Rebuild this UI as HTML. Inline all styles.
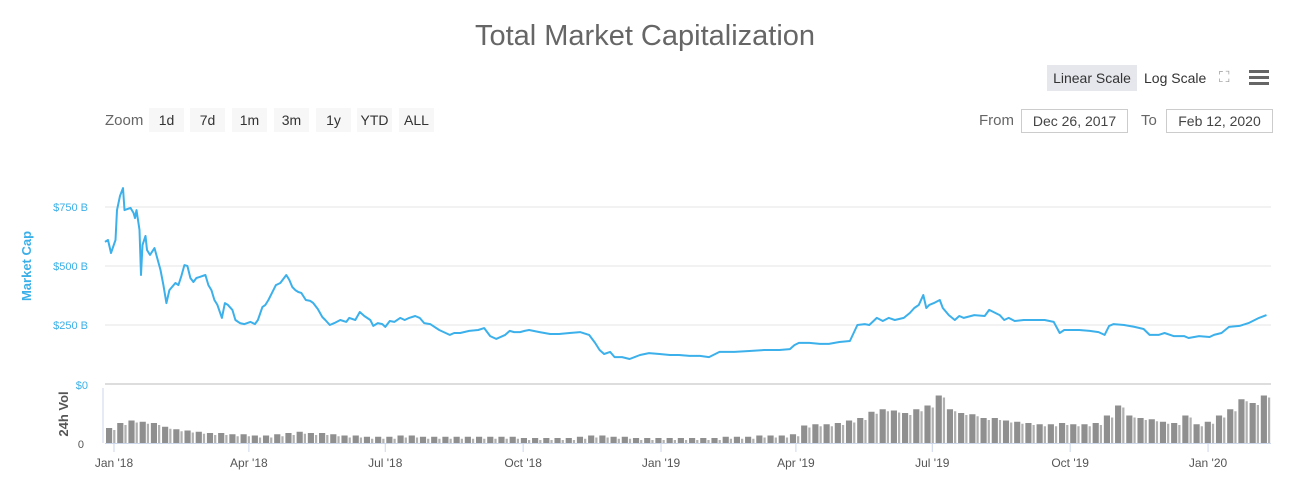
<!DOCTYPE html>
<html><head><meta charset="utf-8"><style>
body{margin:0;background:#fff;font-family:"Liberation Sans",sans-serif;}
#wrap{position:relative;width:1290px;height:480px;overflow:hidden;}
.t{position:absolute;white-space:nowrap;}
.btn{position:absolute;top:108px;height:24px;line-height:24px;background:#f7f7f7;font-size:14px;color:#333;text-align:center;}
.box{position:absolute;top:109px;height:22px;line-height:22px;border:1px solid #ccc;font-size:14px;color:#444;text-align:center;}
</style></head><body><div id="wrap">
<div class="t" style="left:0;width:1290px;text-align:center;top:20px;font-size:29px;color:#666;">Total Market Capitalization</div>
<div class="t" style="left:1047px;top:65px;width:90px;height:26px;line-height:26px;background:#e6e7ec;text-align:center;font-size:14px;color:#333;">Linear Scale</div>
<div class="t" style="left:1144px;top:65px;height:26px;line-height:26px;font-size:14px;color:#333;">Log Scale</div>
<div class="t" style="left:1219px;top:69px;font-size:15px;color:#999;">⛶</div>
<div class="t" style="left:1249px;top:70px;width:20px;height:16px;">
<div style="height:3px;background:#666;margin-bottom:3px"></div><div style="height:3px;background:#666;margin-bottom:3px"></div><div style="height:3px;background:#666"></div></div>
<div class="t" style="left:105px;top:112px;font-size:15px;color:#666;">Zoom</div>
<div class="btn" style="left:149px;width:35px;">1d</div>
<div class="btn" style="left:190px;width:35px;">7d</div>
<div class="btn" style="left:232px;width:35px;">1m</div>
<div class="btn" style="left:274px;width:35px;">3m</div>
<div class="btn" style="left:316px;width:35px;">1y</div>
<div class="btn" style="left:357px;width:35px;">YTD</div>
<div class="btn" style="left:399px;width:35px;">ALL</div>
<div class="t" style="left:979px;top:112px;font-size:15px;color:#666;">From</div>
<div class="box" style="left:1021px;width:105px;">Dec 26, 2017</div>
<div class="t" style="left:1141px;top:112px;font-size:15px;color:#666;">To</div>
<div class="box" style="left:1166px;width:105px;">Feb 12, 2020</div>
<svg id="svg" width="1290" height="480" style="position:absolute;left:0;top:0"></svg>
</div>
<script>
const capDays=[0,2,4,7,8,10,12,13,17,19,20,21,23,24,25,27,28,30,33,37,39,41,43,47,49,51,53,55,57,59,61,63,67,69,71,73,75,78,80,82,85,87,90,93,97,100,102,105,107,109,111,114,117,119,121,123,125,127,129,131,134,137,139,142,145,147,150,153,157,161,163,167,170,173,177,179,182,185,187,190,193,197,200,203,207,210,213,217,223,230,233,237,243,249,253,257,261,267,270,273,277,280,283,290,297,303,310,317,323,327,330,333,337,340,345,350,357,363,370,377,383,390,397,403,410,420,430,440,450,457,460,463,470,477,483,490,497,502,507,510,515,519,523,527,533,537,540,543,546,548,550,553,557,559,563,567,570,573,580,587,590,597,600,603,607,613,620,627,633,637,640,643,650,657,663,667,670,673,680,687,693,697,703,707,713,720,723,730,737,740,745,750,757,763,770,775];
const capVals=[602,610,555,610,737,797,830,737,746,725,703,737,653,462,589,627,568,547,576,483,419,343,398,428,419,458,504,500,449,432,449,453,462,419,398,356,335,280,343,335,314,271,258,254,263,254,271,326,335,356,381,419,428,445,462,441,411,398,390,386,356,352,343,318,284,271,250,258,271,263,280,271,305,288,271,246,258,254,242,267,263,280,271,280,288,280,258,254,229,208,216,216,225,229,237,203,191,208,225,220,220,225,229,220,212,212,216,220,208,174,144,127,136,114,114,106,123,131,127,123,123,119,119,114,136,136,140,144,144,148,165,174,174,170,170,178,182,250,254,250,280,267,280,271,280,301,322,335,377,322,335,343,356,322,292,271,288,280,292,288,314,292,271,280,267,271,271,271,263,216,229,229,229,225,220,208,246,254,250,242,233,208,208,216,203,203,195,203,199,208,216,242,246,258,280,292];
const volVals=[12,16,18,17,16,13,11,10,9,8,8,7,7,6,6,7,8,9,8,8,7,6,6,5,5,5,6,6,5,5,5,5,5,5,5,5,5,4,4,4,4,4,5,6,6,5,5,4,4,4,4,4,4,4,4,5,5,5,6,6,6,7,14,15,15,16,18,20,25,27,26,24,27,30,38,27,24,23,20,20,18,17,16,15,15,16,15,15,16,22,30,22,20,19,17,16,22,15,17,22,27,35,32,38];
const xTicks=["Jan '18","Apr '18","Jul '18","Oct '18","Jan '19","Apr '19","Jul '19","Oct '19","Jan '20"];
const xTickDays=[6,96,187,279,371,461,552,644,736];
const yTicks=[250,500,750];
const TOTAL=778;
const x0=105,x1=1271;
const X=d=>x0+d/TOTAL*(x1-x0);
const Y=v=>384-v*0.236;
const VY=v=>443-v*1.25;
const NS="http://www.w3.org/2000/svg";
const svg=document.getElementById('svg');
function mk(t,a){const e=document.createElementNS(NS,t);for(const k in a)e.setAttribute(k,a[k]);svg.appendChild(e);return e;}
yTicks.forEach(v=>{
 const g=mk('line',{x1:x0,x2:x1,y1:Y(v),y2:Y(v),stroke:'#e6e6e6','stroke-width':1});
 
 
 const t=mk('text',{x:88,y:Y(v)+4,'text-anchor':'end','font-size':11,fill:'#3bb0e8','font-family':'Liberation Sans'});
 t.textContent='$'+v+' B';
 
 
});
const sep=mk('line',{x1:x0,x2:x1,y1:384,y2:384,stroke:'#ddd','stroke-width':2});


const yl=mk('text',{x:0,y:0,transform:'translate(31,266) rotate(-90)','text-anchor':'middle','font-size':13,'font-weight':'bold',fill:'#3bb0e8','font-family':'Liberation Sans'});
yl.textContent='Market Cap';


const vl=mk('text',{x:0,y:0,transform:'translate(68,414) rotate(-90)','text-anchor':'middle','font-size':13,'font-weight':'bold',fill:'#555','font-family':'Liberation Sans'});
vl.textContent='24h Vol';


const z=mk('text',{x:88,y:389,'text-anchor':'end','font-size':11,fill:'#3bb0e8','font-family':'Liberation Sans'});z.textContent='$0';


const z2=mk('text',{x:84,y:448,'text-anchor':'end','font-size':11,fill:'#555','font-family':'Liberation Sans'});z2.textContent='0';


const bw=(x1-x0)/volVals.length;
volVals.forEach((v,i)=>{
 const b=mk('rect',{x:x0+i*bw+1,y:VY(v),width:Math.max(bw*0.55,1),height:443-VY(v),fill:'#8f8f8f'});
 
 
 const b2=mk('rect',{x:x0+i*bw+1+bw*0.55+1,y:VY(v)+2,width:Math.max(bw*0.2,1),height:Math.max(443-VY(v)-2,0),fill:'#b0b0b0'});
 
 
});
const ax=mk('line',{x1:x0,x2:x1,y1:443.5,y2:443.5,stroke:'#ccd6eb','stroke-width':1});


const va=mk('line',{x1:103,x2:103,y1:388,y2:443,stroke:'#ccd6eb','stroke-width':1});


xTicks.forEach((l,i)=>{
 const xx=X(xTickDays[i]);
 const tk=mk('line',{x1:xx,x2:xx,y1:443,y2:452,stroke:'#ccd6eb'});
 
 
 const t=mk('text',{x:xx,y:467,'text-anchor':'middle','font-size':12,fill:'#555','font-family':'Liberation Sans'});
 t.textContent=l;
 
 
});
let d='';capDays.forEach((dd,i)=>{d+=(i?'L':'M')+X(dd).toFixed(1)+' '+Y(capVals[i]).toFixed(1);});
const p=mk('path',{d:d,fill:'none',stroke:'#3cb0ea','stroke-width':2,'stroke-linejoin':'round'});


</script></body></html>
